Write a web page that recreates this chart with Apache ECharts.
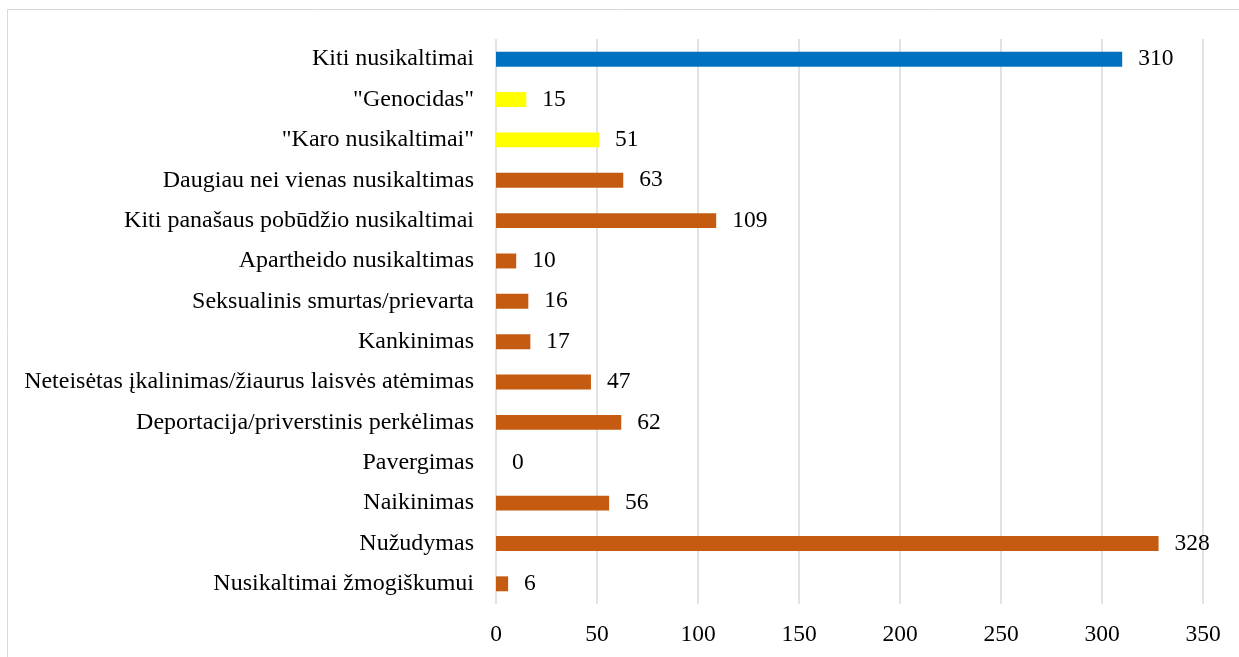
<!DOCTYPE html>
<html>
<head>
<meta charset="utf-8">
<script src="https://cdn.jsdelivr.net/npm/echarts@6/dist/echarts.min.js"></script>
<style>
  html, body { margin: 0; padding: 0; background: #fff; }
  #chart { width: 1239px; height: 657px; }
</style>
</head>
<body>
<div id="chart"></div>
<script>
// categories listed bottom to top (as the y axis draws them)
const categories = [
  "Nusikaltimai žmogiškumui",
  "Nužudymas",
  "Naikinimas",
  "Pavergimas",
  "Deportacija/priverstinis perkėlimas",
  "Neteisėtas įkalinimas/žiaurus laisvės atėmimas",
  "Kankinimas",
  "Seksualinis smurtas/prievarta",
  "Apartheido nusikaltimas",
  "Kiti panašaus pobūdžio nusikaltimai",
  "Daugiau nei vienas nusikaltimas",
  "\"Karo nusikaltimai\"",
  "\"Genocidas\"",
  "Kiti nusikaltimai"
];
const values = [6, 328, 56, 0, 62, 47, 17, 16, 10, 109, 63, 51, 15, 310];
const groups = ["cah", "cah", "cah", "cah", "cah", "cah", "cah", "cah", "cah", "cah", "cah", "war", "war", "other"];
const xTicks = [0, 50, 100, 150, 200, 250, 300, 350];

const groupColor = { cah: "#C55A11", war: "#FFFF00", other: "#0070C0" };
const font = "'Liberation Serif', 'Times New Roman', serif";

const chart = echarts.init(document.getElementById("chart"));
chart.setOption({
  animation: false,
  textStyle: { fontFamily: font },
  graphic: [{
    type: "rect",
    shape: { x: 7.5, y: 9.5, width: 1260, height: 700 },
    style: { fill: null, stroke: "#d9d9d9", lineWidth: 1 },
    silent: true
  }],
  grid: { left: 496, right: 36, top: 39, bottom: 53, containLabel: false, outerBoundsMode: "none" },
  xAxis: {
    type: "value",
    min: xTicks[0],
    max: xTicks[xTicks.length - 1],
    interval: 50,
    axisLine: { show: false },
    axisTick: { show: false },
    axisLabel: { color: "#000", fontSize: 23.5, fontFamily: font, margin: 19 },
    splitLine: { lineStyle: { color: "#d9d9d9", width: 1.5 } }
  },
  yAxis: {
    type: "category",
    data: categories,
    axisLine: { show: false },
    axisTick: { show: false },
    axisLabel: { color: "#000", fontSize: 24, fontFamily: font, margin: 22, padding: [5, 0, 0, 0] }
  },
  series: [{
    type: "bar",
    barWidth: "37%",
    data: values.map((v, i) => ({ value: v, itemStyle: { color: groupColor[groups[i]] } })),
    label: {
      show: true,
      position: "right",
      distance: 16,
      color: "#000",
      fontSize: 23.5,
      fontFamily: font,
      padding: [5, 0, 0, 0]
    }
  }]
});
</script>
</body>
</html>
